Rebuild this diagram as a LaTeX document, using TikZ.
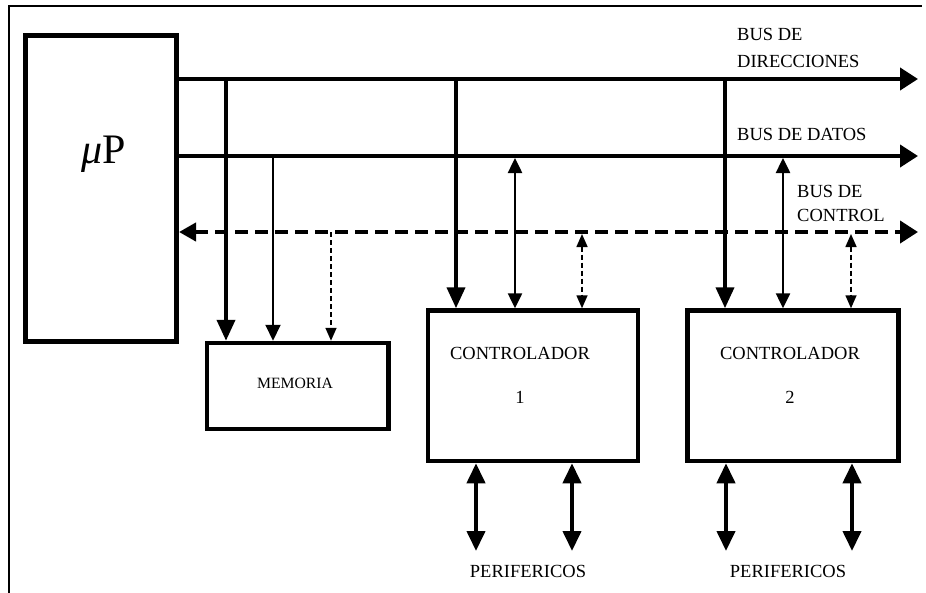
\documentclass[tikz,border=0pt]{standalone}
\usepackage{fontspec}
\setmainfont{Liberation Serif}
\usetikzlibrary{arrows.meta}
\begin{document}
\begin{tikzpicture}[x=1pt,y=-1pt,
  block/.style={draw, line width=4.5pt, inner sep=0pt},
  lbl/.style={inner sep=0pt, font=\fontsize{18.5}{22}\selectfont},
  buswide/.style={line width=4pt},
  thinwire/.style={line width=2pt},
  datawire/.style={line width=2.5pt},
  ctrlwire/.style={line width=1.6pt, dash pattern=on 5pt off 3pt},
  ctrlbus/.style={line width=4pt, dash pattern=on 13pt off 7pt},
  bustip/.style={-{Triangle[length=18pt,width=22pt]}},
  addrtip/.style={-{Triangle[length=21pt,width=18pt]}},
  thintip/.style={-{Triangle[length=16pt,width=15pt]}},
  datatip/.style={{Triangle[length=15pt,width=14pt]}-{Triangle[length=15pt,width=14pt]}},
  ctrltip/.style={-{Triangle[length=13pt,width=11pt]}},
  ctrlbitip/.style={{Triangle[length=13pt,width=11pt]}-{Triangle[length=13pt,width=11pt]}},
  peritip/.style={{Triangle[length=20pt,width=18pt]}-{Triangle[length=20pt,width=18pt]}},
]
\useasboundingbox (0,0) rectangle (926,592);
% outer frame (top and left edges)
\draw[line width=2pt] (9,593) -- (9,6) -- (922,6);

% blocks
\node[block, line width=5pt, minimum width=151.5pt, minimum height=306pt] (up) at (100.75,188.5) {};
\node[block, minimum width=181.5pt, minimum height=86pt] (mem) at (297.75,386) {};
\node[block, minimum width=210pt, minimum height=150.5pt] (c1) at (532.75,385.75) {};
\node[block, minimum width=211pt, minimum height=150.5pt] (c2) at (793,385.75) {};

% block texts
\node[anchor=base, inner sep=0pt, font=\fontsize{42}{48}\selectfont] (uptext) at (104,163.5) {\textit{μ}P};
\node[lbl, anchor=base, font=\fontsize{15.7}{18}\selectfont] (memtext) at (295,388) {MEMORIA};
\node[lbl, anchor=base] (c1a) at (520,359.5) {CONTROLADOR};
\node[lbl, anchor=base] (c1b) at (520,403.5) {1};
\node[lbl, anchor=base] (c2a) at (790,359.5) {CONTROLADOR};
\node[lbl, anchor=base] (c2b) at (790,403.5) {2};

% bus ends
\coordinate (dirEnd) at (918,79);
\coordinate (datEnd) at (918,156);
\coordinate (ctlEnd) at (918,232);

% buses
\draw[buswide, bustip] (up.east |- dirEnd) -- (dirEnd);
\draw[buswide, bustip] (up.east |- datEnd) -- (datEnd);
\draw[ctrlbus, {Triangle[length=17pt,width=18pt]}-{Triangle[length=18pt,width=22pt]}] (up.east |- ctlEnd) -- (ctlEnd);

% bus labels
\node[lbl, anchor=base west] (ldir1) at (737,40) {BUS DE};
\node[lbl, anchor=base west] (ldir2) at (737,67) {DIRECCIONES};
\node[lbl, anchor=base west] (ldat) at (737,140) {BUS DE DATOS};
\node[lbl, anchor=base west] (lctl1) at (797,197) {BUS DE};
\node[lbl, anchor=base west] (lctl2) at (797,221.5) {CONTROL};

% taps on the buses
\coordinate (mA) at (226,79);
\coordinate (mD) at (273,156);
\coordinate (mC) at (331,232);
\coordinate (aA) at (456,79);
\coordinate (aD) at (515,158);
\coordinate (aC) at (582,234);
\coordinate (bA) at (725,79);
\coordinate (bD) at (783,158);
\coordinate (bC) at (851,234);

% memory connections
\draw[buswide, addrtip] (mA) -- (mA |- mem.north);
\draw[thinwire, thintip] (mD) -- (mD |- mem.north);
\draw[ctrlwire, ctrltip] (mC) -- (mC |- mem.north);

% controller 1 connections
\draw[buswide, addrtip] (aA) -- (aA |- c1.north);
\draw[datawire, datatip] (aD) -- (aD |- c1.north);
\draw[ctrlwire, ctrlbitip] (aC) -- (aC |- c1.north);

% controller 2 connections
\draw[buswide, addrtip] (bA) -- (bA |- c2.north);
\draw[datawire, datatip] (bD) -- (bD |- c2.north);
\draw[ctrlwire, ctrlbitip] (bC) -- (bC |- c2.north);

% peripheral links
\coordinate (p1) at (476,551);
\coordinate (p2) at (572,551);
\coordinate (p3) at (726,551);
\coordinate (p4) at (852,551);
\draw[buswide, peritip] (p1 |- c1.south) -- (p1);
\draw[buswide, peritip] (p2 |- c1.south) -- (p2);
\draw[buswide, peritip] (p3 |- c2.south) -- (p3);
\draw[buswide, peritip] (p4 |- c2.south) -- (p4);

\node[lbl, anchor=base] (per1) at (528,577) {PERIFERICOS};
\node[lbl, anchor=base] (per2) at (788,577) {PERIFERICOS};
\end{tikzpicture}
\end{document}
